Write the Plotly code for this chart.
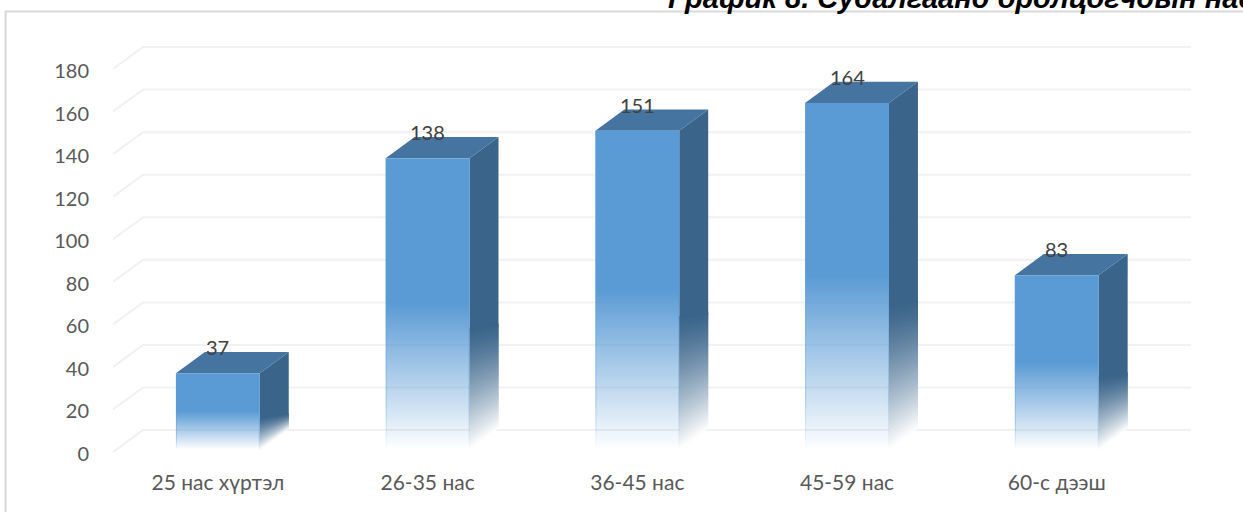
import numpy as np
import plotly.graph_objects as go

categories = ["25 нас хүртэл", "26-35 нас", "36-45 нас", "45-59 нас", "60-с дээш"]
values = [37, 138, 151, 164, 83]
tick_values = [0, 20, 40, 60, 80, 100, 120, 140, 160, 180]

FONT = "Lato, Carlito, 'Open Sans', sans-serif"
SIDE = (58, 100, 138)
TOP = "#44749f"
GRID = "#f1f1f1"

HALF_W = 0.2        # half of a bar's front width, in category units
DEPTH_X = 0.138     # oblique depth, in category units
DEPTH_Y = 10.0      # oblique depth, in value units
WALL_DX = 0.143     # depth of the floor/back-wall grid
WALL_DY = 10.3
X_MIN, X_MAX = -0.5, 4.64
Y_MAX = 212.4
FLOOR = 1.0         # bars stop just above the zero line
SIDE_FADE = 0.58    # fraction of the bar height where the side starts to fade
EDGE_W = 0.005      # thin lighter edges of the front face

fig = go.Figure()


def poly(xs, ys, **kw):
    fig.add_trace(go.Scatter(x=xs, y=ys, mode="lines", fill="toself",
                             hoverinfo="skip", showlegend=False, **kw))


def blend(rgb, a):
    return "rgb(%d,%d,%d)" % tuple(round(c + (255 - c) * a) for c in rgb)


# Grid: slanted stub on the left, then along the back wall
for v in tick_values:
    fig.add_trace(go.Scatter(
        x=[X_MIN, X_MIN + WALL_DX, X_MAX], y=[v, v + WALL_DY, v + WALL_DY],
        mode="lines", line=dict(color=GRID, width=2),
        hoverinfo="skip", showlegend=False))

for i, v in enumerate(values):
    x0, x1 = i - HALF_W, i + HALF_W
    xb = x1 + DEPTH_X

    # Right side face: solid upper part, then bands fading to white whose tilt
    # grows toward the floor. Each band runs under the next one.
    mid = FLOOR + (v - FLOOR) * (1 - SIDE_FADE)
    n = max(int(v / 2), 10)
    edges = np.linspace(mid, FLOOR, n + 1)
    tilt = DEPTH_Y * (0.2 + 0.8 * np.linspace(0, 1, n + 1))
    poly([x1, xb, xb, x1, x1], [v, v + DEPTH_Y, edges[2] + tilt[2], edges[2], v],
         line=dict(width=0), fillcolor=blend(SIDE, 0))
    for k in range(n):
        j = min(k + 2, n)
        hi, lo = edges[k], edges[j]
        t = (k + 0.5) / n
        poly([x1, xb, xb, x1, x1], [hi, hi + tilt[k], lo + tilt[j], lo, hi],
             line=dict(width=0), fillcolor=blend(SIDE, t ** 1.3))

    # Top face
    poly([x0, x0 + DEPTH_X, xb, x1, x0], [v, v + DEPTH_Y, v + DEPTH_Y, v, v],
         line=dict(width=0), fillcolor=TOP)

    # Front face, transparent at the floor so the grid shows through
    poly([x0, x1, x1, x0, x0], [v, v, FLOOR, FLOOR, v],
         line=dict(width=0),
         fillgradient=dict(
             type="vertical", start=v, stop=FLOOR,
             colorscale=[[0, "rgba(91,155,213,1)"], [0.5, "rgba(91,155,213,1)"],
                         [1, "rgba(91,155,213,0)"]]))

    # Thin edges that stay visible where the front face fades out
    for ex in (x0, x1 - EDGE_W):
        poly([ex, ex + EDGE_W, ex + EDGE_W, ex, ex], [v, v, FLOOR, FLOOR, v],
             line=dict(width=0),
             fillgradient=dict(
                 type="vertical", start=v, stop=FLOOR,
                 colorscale=[[0, "rgba(91,155,213,0.35)"], [0.85, "rgba(91,155,213,0.35)"],
                             [1, "rgba(91,155,213,0)"]]))

annotations = [
    dict(x=i, y=v, xref="x", yref="y", text=str(v), showarrow=False,
         yshift=26, yanchor="middle", xanchor="center",
         font=dict(family=FONT, size=20, color="#404040"))
    for i, v in enumerate(values)
]
annotations.append(dict(
    x=0.5358, y=0.9688, xref="paper", yref="paper", xanchor="left", yanchor="bottom",
    showarrow=False, align="left",
    text="<b><i>График 8. Судалгаанд оролцогчдын нас</i></b>",
    font=dict(family="Liberation Sans", size=29, color="#000000")))

fig.update_layout(
    width=1243, height=512,
    margin=dict(l=0, r=0, t=0, b=0, autoexpand=False),
    paper_bgcolor="white", plot_bgcolor="white",
    showlegend=False,
    annotations=annotations,
    shapes=[
        dict(type="rect", xref="paper", yref="paper", x0=0.0045, x1=1.01, y0=-0.02, y1=0.9775,
             line=dict(color="#d9d9d9", width=2), fillcolor="rgba(0,0,0,0)", layer="below"),
    ],
)
fig.update_xaxes(
    domain=[113 / 1243, 1191 / 1243], range=[X_MIN, X_MAX],
    tickmode="array", tickvals=list(range(len(categories))), ticktext=categories,
    showgrid=False, zeroline=False, showline=False,
    ticks="outside", ticklen=12, tickcolor="rgba(0,0,0,0)",
    tickfont=dict(family=FONT, size=21, color="#595959"),
)
fig.update_yaxes(
    domain=[60 / 512, 1], range=[0, Y_MAX],
    tickmode="array", tickvals=tick_values,
    showgrid=False, zeroline=False, showline=False,
    ticks="outside", ticklen=19, tickcolor="rgba(0,0,0,0)", ticklabelshift=2,
    tickfont=dict(family=FONT, size=20, color="#595959"),
)

fig.write_html("out.html")
